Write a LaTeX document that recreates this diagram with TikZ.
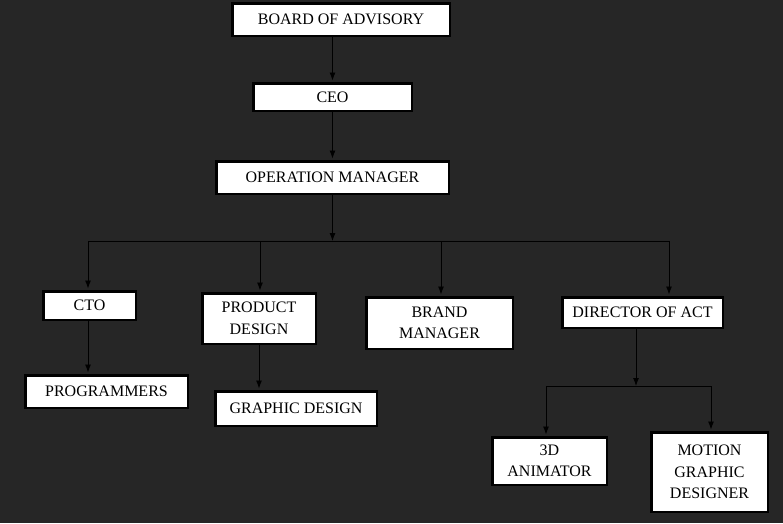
\documentclass[tikz,border=0pt]{standalone}
\usepackage{fontspec}
\setmainfont{Liberation Serif}
\usetikzlibrary{arrows.meta}
\definecolor{backdrop}{RGB}{38,38,38}
\tikzset{%
    post/.style={shape=rectangle,draw=black,fill=white,line width=2.5pt,inner sep=0pt,align=center,font=\fontsize{16}{21.5}\selectfont},
    link/.style={->,line width=0.9pt,shorten >=1.5pt},
    bus/.style={line width=0.9pt},
}

\begin{document}
\begin{tikzpicture}[x=1pt,y=-1pt,>={Latex[length=8pt,width=6pt]}]
        \fill[backdrop] (0,0) rectangle (783,523);

        \node[post,minimum width=217.5pt,minimum height=32.5pt] (board) at (341,19.5) {BOARD OF ADVISORY};
        \node[post,minimum width=158.5pt,minimum height=27.5pt] (ceo) at (332.5,97) {CEO};
        \node[post,minimum width=232.5pt,minimum height=32.5pt] (opman) at (332.5,177.5) {OPERATION MANAGER};

        \node[post,minimum width=92.5pt,minimum height=28.5pt] (cto) at (89.5,305.5) {CTO};
        \node[post,minimum width=113.5pt,minimum height=50.5pt] (prod) at (259,318.5) {PRODUCT\\DESIGN};
        \node[post,minimum width=146.5pt,minimum height=51.5pt] (brand) at (439.5,323) {BRAND\\MANAGER};
        \node[post,minimum width=160.5pt,minimum height=30.5pt] (dir) at (642.5,312.5) {DIRECTOR OF ACT};

        \node[post,minimum width=162.5pt,minimum height=32.5pt] (prog) at (106.5,391.5) {PROGRAMMERS};
        \node[post,minimum width=161.5pt,minimum height=34.5pt] (graph) at (296,408.5) {GRAPHIC DESIGN};
        \node[post,minimum width=114.5pt,minimum height=47.5pt] (anim) at (549.5,461) {3D\\ANIMATOR};
        \node[post,minimum width=116.5pt,minimum height=79.5pt] (motion) at (709.5,472) {MOTION\\GRAPHIC\\DESIGNER};

        \draw[link] (ceo.north |- board.south) -- (ceo.north);
        \draw[link] (ceo.south) -- (opman.north);

        \coordinate (J0) at (332.5,241);
        \coordinate (J1) at (88,241);
        \coordinate (J2) at (260,241);
        \coordinate (J3) at (441,241);
        \coordinate (J4) at (669,241);
        \draw[link,shorten >=0pt] (opman.south) -- (J0);
        \draw[bus] (J1) -- (J4);
        \draw[link] (J1) -- (J1 |- cto.north);
        \draw[link] (J2) -- (J2 |- prod.north);
        \draw[link] (J3) -- (J3 |- brand.north);
        \draw[link] (J4) -- (J4 |- dir.north);

        \draw[link] (J1 |- cto.south) -- (J1 |- prog.north);
        \draw[link] (prod.south) -- (prod.south |- graph.north);

        \coordinate (K0) at (636,386);
        \coordinate (K1) at (546,386);
        \coordinate (K2) at (711,386);
        \draw[link,shorten >=0pt] (K0 |- dir.south) -- (K0);
        \draw[bus] (K1) -- (K2);
        \draw[link] (K1) -- (K1 |- anim.north);
        \draw[link] (K2) -- (K2 |- motion.north);
      \end{tikzpicture}
\end{document}
